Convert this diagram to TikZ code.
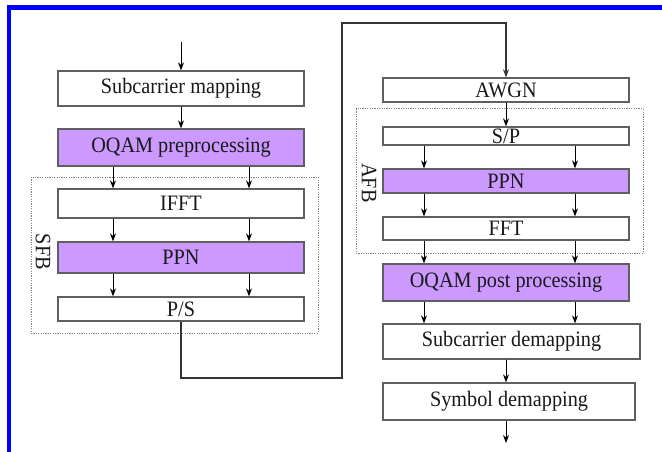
\documentclass[tikz,border=0pt]{standalone}
\usepackage{fontspec}
\setmainfont{Liberation Serif}
\newfontfamily\boxfont[FakeStretch=0.92]{Liberation Serif}
\usetikzlibrary{arrows.meta}
\definecolor{lav}{RGB}{204,153,255}
\definecolor{edge}{RGB}{95,95,95}
\tikzset{
  blk/.style={draw=edge, line width=1.3pt, fill=white, inner sep=0pt,
    font=\boxfont\fontsize{22}{24}\selectfont, text=black!90},
  hot/.style={blk, fill=lav},
  grp/.style={draw=gray, line width=1pt, dash pattern=on 1.2pt off 1.2pt},
  arr/.style={draw=black, line width=1pt, -{Stealth[length=8pt,width=6pt]}},
  link/.style={draw=black!80, line width=1.1pt, -{Stealth[length=8pt,width=6pt]}},
  lbl/.style={font=\boxfont\fontsize{22}{24}\selectfont, rotate=-90, text=black!90}
}
\begin{document}
\begin{tikzpicture}[x=1pt, y=-1pt]
\useasboundingbox (0,0) rectangle (662,452);
% frame
\draw[blue, line width=4.5pt] (8.8,455) -- (8.8,7.5) -- (665,7.5);

% transmitter chain
\draw[grp] (31,177) rectangle (318,333);
\node[lbl] (sfb) at (43,252) {SFB};
\node[blk, minimum width=246pt, minimum height=35pt] (sm) at (181,88.5) {Subcarrier mapping};
\node[hot, minimum width=246pt, minimum height=37pt] (oqp) at (181,147.5) {OQAM preprocessing};
\node[blk, minimum width=246pt, minimum height=29pt] (ifft) at (181,203.5) {IFFT};
\node[hot, minimum width=246pt, minimum height=31pt] (ppn1) at (181,257.5) {PPN};
\node[blk, minimum width=246pt, minimum height=24pt] (ps) at (181,309) {P/S};

% receiver chain
\draw[grp] (356,109) rectangle (643,253);
\node[lbl] (afb) at (369,183) {AFB};
\node[blk, minimum width=246pt, minimum height=24pt] (awgn) at (506,90) {AWGN};
\node[blk, minimum width=246pt, minimum height=18pt] (sp) at (506,136) {S/P};
\node[hot, minimum width=246pt, minimum height=24pt] (ppn2) at (506,181) {PPN};
\node[blk, minimum width=246pt, minimum height=23pt] (fft) at (506,228.5) {FFT};
\node[hot, minimum width=246pt, minimum height=37pt] (oqpost) at (506,282.5) {OQAM post processing};
\node[blk, minimum width=257pt, minimum height=35pt] (scd) at (511.5,341.5) {Subcarrier demapping};
\node[blk, minimum width=252pt, minimum height=37pt] (symd) at (509,401.5) {Symbol demapping};

% branch positions and free ends
\coordinate (ll) at (113,0);
\coordinate (lr) at (249,0);
\coordinate (rl) at (424,0);
\coordinate (rr) at (575,0);
\coordinate (in) at (181,42);
\coordinate (out) at (506,443);
\coordinate (lb) at (342,378);
\coordinate (lt) at (342,23);

% transmitter connectors
\draw[arr] (in) -- (sm.north);
\draw[arr] (sm.south) -- (oqp.north);
\foreach \c in {ll,lr}{
  \draw[arr] (oqp.south -| \c) -- (ifft.north -| \c);
  \draw[arr] (ifft.south -| \c) -- (ppn1.north -| \c);
  \draw[arr] (ppn1.south -| \c) -- (ps.north -| \c);
}

% channel link
\draw[link] (ps.south) |- (lb) -- (lt) -| (awgn.north);

% receiver connectors
\draw[arr] (awgn.south) -- (sp.north);
\foreach \c in {rl,rr}{
  \draw[arr] (sp.south -| \c) -- (ppn2.north -| \c);
  \draw[arr] (ppn2.south -| \c) -- (fft.north -| \c);
  \draw[arr] (fft.south -| \c) -- (oqpost.north -| \c);
  \draw[arr] (oqpost.south -| \c) -- (scd.north -| \c);
}
\draw[arr] (scd.south -| out) -- (symd.north -| out);
\draw[arr] (symd.south -| out) -- (out);
\end{tikzpicture}
\end{document}
